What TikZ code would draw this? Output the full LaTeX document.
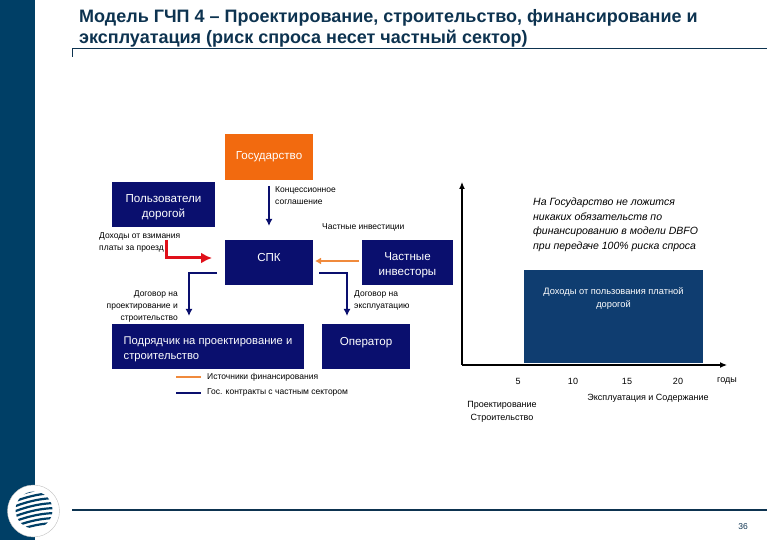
\documentclass[tikz,border=0pt]{standalone}
\usepackage{fontspec}
\setmainfont{Liberation Sans}
\usepackage{xcolor}
\usepackage{tikz}
\usetikzlibrary{arrows.meta}
\definecolor{sidebar}{HTML}{003F66}
\definecolor{boxblue}{HTML}{0A0F6E}
\definecolor{chartblue}{HTML}{0F3D70}
\definecolor{stateorange}{HTML}{F26A0F}
\definecolor{linkorange}{HTML}{F08A3C}
\definecolor{titleblue}{HTML}{0D3350}
\definecolor{tollred}{HTML}{E0101A}
\tikzset{
    actor/.style = {fill = boxblue, text = white, font = \fontsize{11.6}{15}\selectfont, align = center, inner sep = 0pt},
    liftup/.style = {text depth = 10pt},
    pushdown/.style = {text height = 28.5pt},
    lbl/.style = {font = \fontsize{8.5}{12}\selectfont, align = left, inner sep = 0pt},
    axislbl/.style = {font = \fontsize{9}{13}\selectfont, align = center, inner sep = 0pt},
    contract/.style = {draw = boxblue, line width = 1.6pt, -{Latex[length = 7pt, width = 7pt]}},
    funding/.style = {draw = linkorange, line width = 1.6pt, -{Latex[length = 6pt, width = 7pt]}}
}
\begin{document}
\begin{tikzpicture}[x = 1pt, y = -1pt]
    \useasboundingbox (0, 0) rectangle (780, 540);
    \fill[sidebar] (0, 0) rectangle (35, 540);

    \node (title) [anchor = north west, inner sep = 0pt, text = titleblue, align = left, font = \fontsize{18}{21}\selectfont\bfseries] at (79, 9.5)
        {Модель ГЧП 4 – Проектирование, строительство, финансирование и\\эксплуатация (риск спроса несет частный сектор)};
    \draw[titleblue, line width = 0.8pt] (72, 57) -- (72, 48.5) -- (767, 48.5);
    \draw[titleblue, line width = 1.5pt] (72, 510) -- (767, 510);
    \node (page) [font = \fontsize{8.5}{10}\selectfont, text = titleblue] at (743, 527) {36};

    \node (gos) [actor, fill = stateorange, minimum width = 88pt, minimum height = 46pt] at (269, 157) {Государство};
    \node (users) [actor, pushdown, minimum width = 103pt, minimum height = 45pt] at (163.5, 204.5) {Пользователи\\дорогой};
    \node (spk) [actor, liftup, minimum width = 88pt, minimum height = 45pt] at (269, 262.5) {СПК};
    \node (investors) [actor, pushdown, minimum width = 91pt, minimum height = 45pt] at (407.5, 262.5) {Частные\\инвесторы};
    \node (builder) [actor, pushdown, align = left, minimum width = 192pt, minimum height = 45pt, font = \fontsize{11.2}{15}\selectfont] at (208, 346.5) {Подрядчик на проектирование и\\строительство};
    \node (operator) [actor, liftup, minimum width = 88pt, minimum height = 45pt] at (366, 346.5) {Оператор};

    \coordinate (gosout) at (269, 186);
    \coordinate (spkin) at (269, 226);
    \coordinate (redstart) at (166, 240);
    \coordinate (redend) at (212, 258);
    \coordinate (invout) at (359, 261);
    \coordinate (invin) at (315, 261);
    \coordinate (leftstart) at (217, 273);
    \coordinate (leftturn) at (189, 273);
    \coordinate (leftend) at (189, 316);
    \coordinate (rightstart) at (319, 273);
    \coordinate (rightturn) at (347, 273);
    \coordinate (rightend) at (347, 316);
    \draw[contract] (gosout) -- (spkin);
    \draw[tollred, line width = 3pt, -{Latex[length = 11pt, width = 11pt]}] (redstart) |- (redend);
    \draw[funding] (invout) -- (invin);
    \draw[contract] (leftstart) -- (leftturn) -- (leftend);
    \draw[contract] (rightstart) -- (rightturn) -- (rightend);

    \node (concession) [lbl, anchor = north west] at (275, 186) {Концессионное\\соглашение};
    \node (privinv) [lbl, anchor = west] at (322, 227) {Частные инвестиции};
    \node (tolls) [lbl, anchor = north west] at (99, 232.5) {Доходы от взимания\\платы за проезд};
    \node (dbcontract) [lbl, anchor = north east, align = right] at (178, 290.5) {Договор на\\проектирование и\\строительство};
    \node (opcontract) [lbl, anchor = north west] at (354, 290.5) {Договор на\\эксплуатацию};

    \coordinate (legendstart) at (176, 377);
    \coordinate (legendend) at (201, 377);
    \coordinate (legendstartb) at (176, 393);
    \coordinate (legendendb) at (201, 393);
    \draw[draw = linkorange, line width = 1.6pt] (legendstart) -- (legendend);
    \draw[draw = boxblue, line width = 1.6pt] (legendstartb) -- (legendendb);
    \node (legendfund) [lbl, anchor = west] at (207, 377) {Источники финансирования};
    \node (legendgov) [lbl, anchor = west] at (207, 392) {Гос. контракты с частным сектором};

    \coordinate (origin) at (462, 365);
    \coordinate (top) at (462, 182);
    \coordinate (right) at (727, 365);
    \draw[black, line width = 1.2pt, -{Latex[length = 7pt, width = 6pt]}] (origin) -- (top);
    \draw[black, line width = 1.2pt, -{Latex[length = 7pt, width = 6pt]}] (origin) -- (right);
    \node (revenue) [fill = chartblue, minimum width = 179pt, minimum height = 93pt, inner sep = 0pt] at (613.5, 316.5) {};
    \node (revtext) [text = white, align = center, inner sep = 0pt, font = \fontsize{9.3}{13}\selectfont] at (613.5, 299) {Доходы от пользования платной\\дорогой};
    \node (note) [anchor = north west, inner sep = 0pt, align = left, font = \fontsize{10.5}{14.5}\selectfont\itshape] at (533, 198)
        {На Государство не ложится\\никаких обязательств по\\финансированию в модели DBFO\\при передаче 100\% риска спроса};

    \foreach \yr/\xpos in {5/518, 10/573, 15/627, 20/678} {
        \node (year\yr) [axislbl] at (\xpos, 381) {\yr};
    }
    \node (years) [axislbl] at (727, 381) {годы};
    \node (opphase) [axislbl] at (648, 398) {Эксплуатация и Содержание};
    \node (buildphase) [axislbl] at (502, 411.5) {Проектирование\\Строительство};

    \fill[white, draw = black!25] (33.5, 511) circle (26);
    \begin{scope}
        \clip (34, 510) circle (18.5);
        \foreach \shift in {-16, -11, ..., 19} {
            \draw[sidebar, line width = 2.2pt] (8, 510 + \shift + 5) .. controls (25, 510 + \shift - 2) and (40, 510 + \shift - 6) .. (58, 510 + \shift - 6);
        }
    \end{scope}
\end{tikzpicture}
\end{document}
